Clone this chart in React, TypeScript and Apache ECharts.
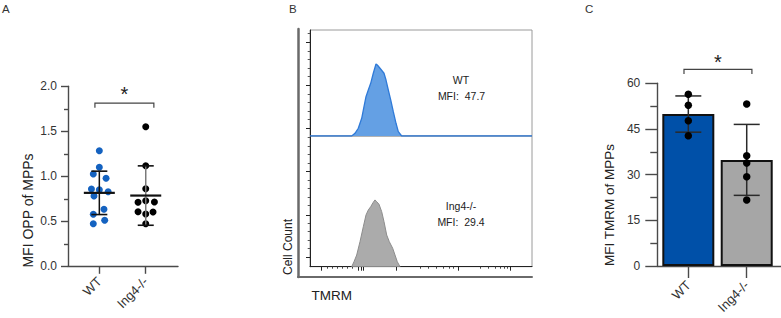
import React, { useEffect, useRef } from "react";
import * as echarts from "echarts";

// ---------- Panel A : MFI OPP of MPPs ----------
const A_GROUPS = ["WT", "Ing4-/-"];
const A_CENTERS = [0.675, 1.675];
const A_WT = [1.284, 1.1, 1.026, 0.978, 0.859, 0.851, 0.829, 0.781, 0.633, 0.578, 0.511, 0.473];
const A_WT_JITTER = [0, 0, -0.13, 0.145, -0.17, 0, 0.19, -0.115, 0.1, -0.13, 0.115, -0.13];
const A_KO = [1.551, 1.118, 0.862, 0.711, 0.729, 0.714, 0.607, 0.603, 0.581, 0.473];
const A_KO_JITTER = [0, 0, 0, -0.166, 0, 0.187, -0.166, 0.157, 0, 0];
const A_MEAN = [0.816, 0.786];
const A_SD = [0.241, 0.33];
const A_BRACKET = [0.58, 1.85, 1.814];

// ---------- Panel B : TMRM histograms ----------
const B_WT_X = [0, 41.7, 45, 48.3, 51.7, 54, 56, 58.3, 60.7, 63.3, 66, 67.3, 70, 74, 76, 78.3, 80.7, 83.3, 86, 88.3, 91.7, 222];
const B_WT_Y = [0, 0, 2.5, 7.3, 16.7, 27.6, 37.1, 43.4, 49.7, 59.2, 67.9, 67.0, 63.9, 59.2, 52.8, 43.4, 34.0, 22.9, 12.0, 4.1, 0, 0];
const B_KO_X = [41.7, 44, 46.7, 50, 53.3, 56, 58.3, 60.7, 63.3, 65, 66.7, 69, 71.7, 74, 76.7, 79.3, 82.7, 85, 87.3, 90];
const B_KO_Y = [0, 4.7, 11.0, 23.6, 37.7, 48.8, 53.5, 56.6, 60.8, 63.0, 61.3, 58.9, 51.9, 42.5, 29.9, 23.6, 17.4, 11.0, 4.7, 0];
const B_X_MAJOR = [11.7, 48, 51, 53, 86, 148, 200];
const B_X_MINOR = [17, 22, 27, 32, 37, 42, 110, 118, 126, 133, 139, 143, 170, 178, 185, 190, 194, 197];
const B_UP_Y_MAJOR = [7.3, 47.8, 88.4];
const B_UP_Y_MINOR = [15.4, 23.5, 31.6, 39.7, 56, 64, 72, 80, 96.5];
const B_LO_Y_MAJOR = [8.9, 48.8, 89.6];
const B_LO_Y_MINOR = [17, 25.1, 33.2, 41.3, 57.5, 65.6, 73.7, 81.8, 97.9, 106, 114.1, 122.2];
const B_LABELS = ["WT", "MFI:  47.7", "Ing4-/-", "MFI:  29.4"];

// ---------- Panel C : MFI TMRM of MPPs ----------
const C_GROUPS = ["WT", "Ing4-/-"];
const C_CENTERS = [0.531, 1.531];
const C_MEAN = [49.9, 34.85];
const C_SD = [5.95, 11.65];
const C_WT = [56.4, 52.8, 47.7, 42.8];
const C_KO = [53.2, 36.2, 33.8, 29.3, 21.7];
const C_BRACKET = [0.457, 1.62, 64.6];

const FONT = "'Liberation Sans', Arial, Helvetica, sans-serif";
const AXIS_COLOR = "#4a4a4a";
const LABEL_COLOR = "#333";

function groupName(groups: string[], centers: number[], v: number) {
  for (let i = 0; i < centers.length; i++) if (Math.abs(centers[i] - v) < 1e-6) return groups[i];
  return "";
}

function errorBarSeries(xi: number, yi: number, centers: number[], means: number[], sds: number[], opts: any) {
  return {
    type: "custom",
    xAxisIndex: xi,
    yAxisIndex: yi,
    z: opts.z,
    data: centers.map((c, i) => [c, means[i], sds[i], i]),
    renderItem: (params: any, api: any) => {
      const x = api.value(0);
      const m = api.value(1);
      const s = api.value(2);
      const idx = api.value(3);
      const c = api.coord([x, m]);
      const t = api.coord([x, m + s]);
      const b = api.coord([x, m - s]);
      const vStroke = opts.vColors[idx];
      const capStroke = opts.capColor;
      const children: any[] = [
        { type: "line", shape: { x1: c[0], y1: t[1], x2: c[0], y2: b[1] }, style: { stroke: vStroke, lineWidth: opts.vWidth } },
        { type: "line", shape: { x1: c[0] - opts.cap, y1: t[1], x2: c[0] + opts.cap, y2: t[1] }, style: { stroke: capStroke, lineWidth: opts.capWidth } },
        { type: "line", shape: { x1: c[0] - opts.cap, y1: b[1], x2: c[0] + opts.cap, y2: b[1] }, style: { stroke: capStroke, lineWidth: opts.capWidth } },
      ];
      if (opts.meanHalf) {
        children.push({ type: "line", shape: { x1: c[0] - opts.meanHalf, y1: c[1], x2: c[0] + opts.meanHalf, y2: c[1] }, style: { stroke: "#111", lineWidth: 2.2 } });
      }
      return { type: "group", children };
    },
  };
}

function bracketSeries(xi: number, yi: number, br: number[], starDy: number, fontSize: number) {
  return {
    type: "custom",
    xAxisIndex: xi,
    yAxisIndex: yi,
    clip: false,
    z: 5,
    data: [br],
    renderItem: (params: any, api: any) => {
      const p1 = api.coord([api.value(0), api.value(2)]);
      const p2 = api.coord([api.value(1), api.value(2)]);
      const drop = 4.7;
      return {
        type: "group",
        children: [
          {
            type: "polyline",
            shape: { points: [[p1[0], p1[1] + drop], [p1[0], p1[1]], [p2[0], p1[1]], [p2[0], p1[1] + drop]] },
            style: { stroke: "#444", lineWidth: 1.2, fill: "none" },
          },
          {
            type: "text",
            x: (p1[0] + p2[0]) / 2,
            y: p1[1] - starDy,
            style: { text: "*", fontSize, fontFamily: FONT, fill: "#222", align: "center", verticalAlign: "top" },
          },
        ],
      };
    },
  };
}

export default function App() {
  const ref = useRef<HTMLDivElement>(null);

  useEffect(() => {
    if (!ref.current) return;
    const chart = echarts.init(ref.current, null, { renderer: "svg" });

    const hidden = { show: false };

    const option: any = {
      animation: false,
      backgroundColor: "#fff",
      grid: [
        { left: 68, top: 86.3, width: 110, height: 180 },
        { left: 310, top: 30, width: 222, height: 106, show: true, borderColor: "#9a9a9a", borderWidth: 1 },
        { left: 310, top: 136, width: 222, height: 130.7, show: true, borderColor: "#9a9a9a", borderWidth: 1 },
        { left: 298, top: 29, width: 234, height: 248 },
        { left: 657.3, top: 83.3, width: 123.7, height: 182.7 },
      ],
      xAxis: [
        {
          gridIndex: 0, type: "value", min: 0, max: 2.37, position: "bottom",
          axisLine: { show: true, lineStyle: { color: AXIS_COLOR, width: 1.4 } },
          axisTick: { show: true, length: 7.5, customValues: A_CENTERS, lineStyle: { color: AXIS_COLOR, width: 1.4 } },
          axisLabel: {
            customValues: A_CENTERS, rotate: 45, margin: 13, fontSize: 13, fontFamily: FONT, color: LABEL_COLOR,
            formatter: (v: number) => groupName(A_GROUPS, A_CENTERS, v),
          },
          splitLine: hidden,
        },
        { gridIndex: 1, type: "value", min: 0, max: 222, show: false },
        {
          gridIndex: 2, type: "value", min: 0, max: 222, position: "bottom",
          axisLine: { show: true, lineStyle: { color: "#222", width: 1 } },
          axisTick: { show: true, length: 4, customValues: B_X_MAJOR, lineStyle: { color: "#222", width: 1 } },
          axisLabel: hidden, splitLine: hidden,
        },
        {
          gridIndex: 2, type: "value", min: 0, max: 222, position: "bottom",
          axisLine: hidden,
          axisTick: { show: true, length: 2, customValues: B_X_MINOR, lineStyle: { color: "#444", width: 1 } },
          axisLabel: hidden, splitLine: hidden,
        },
        {
          gridIndex: 3, type: "value", min: 0, max: 1, position: "bottom",
          axisLine: { show: true, lineStyle: { color: "#6a6a6a", width: 2 } },
          axisTick: hidden, axisLabel: hidden, splitLine: hidden,
        },
        {
          gridIndex: 4, type: "value", min: 0, max: 2.118, position: "bottom",
          axisLine: { show: true, lineStyle: { color: AXIS_COLOR, width: 1.4 } },
          axisTick: { show: true, length: 12, customValues: C_CENTERS, lineStyle: { color: AXIS_COLOR, width: 1.4 } },
          axisLabel: {
            customValues: C_CENTERS, rotate: 45, margin: 17, fontSize: 13, fontFamily: FONT, color: LABEL_COLOR,
            formatter: (v: number) => groupName(C_GROUPS, C_CENTERS, v),
          },
          splitLine: hidden,
        },
      ],
      yAxis: [
        {
          gridIndex: 0, type: "value", min: 0, max: 2, interval: 0.5, position: "left",
          axisLine: { show: true, lineStyle: { color: AXIS_COLOR, width: 1.4 } },
          axisTick: { show: true, length: 7, lineStyle: { color: AXIS_COLOR, width: 1.4 } },
          minorTick: { show: true, splitNumber: 2, length: 4, lineStyle: { color: AXIS_COLOR, width: 1.4 } },
          axisLabel: { margin: 11, fontSize: 12, fontFamily: FONT, color: LABEL_COLOR, formatter: (v: number) => v.toFixed(1) },
          splitLine: hidden, minorSplitLine: hidden,
        },
        {
          gridIndex: 1, type: "value", min: 0, max: 100, position: "left",
          axisLine: { show: true, lineStyle: { color: "#222", width: 1 } },
          axisTick: { show: true, length: 4, customValues: B_UP_Y_MAJOR, lineStyle: { color: "#222" } },
          axisLabel: hidden, splitLine: hidden,
        },
        {
          gridIndex: 1, type: "value", min: 0, max: 100, position: "left",
          axisLine: hidden,
          axisTick: { show: true, length: 2.3, customValues: B_UP_Y_MINOR, lineStyle: { color: "#555" } },
          axisLabel: hidden, splitLine: hidden,
        },
        {
          gridIndex: 2, type: "value", min: 0, max: 123.3, position: "left",
          axisLine: { show: true, lineStyle: { color: "#222", width: 1 } },
          axisTick: { show: true, length: 4, customValues: B_LO_Y_MAJOR, lineStyle: { color: "#222" } },
          axisLabel: hidden, splitLine: hidden,
        },
        {
          gridIndex: 2, type: "value", min: 0, max: 123.3, position: "left",
          axisLine: hidden,
          axisTick: { show: true, length: 2.3, customValues: B_LO_Y_MINOR, lineStyle: { color: "#555" } },
          axisLabel: hidden, splitLine: hidden,
        },
        {
          gridIndex: 3, type: "value", min: 0, max: 1, position: "left",
          axisLine: { show: true, lineStyle: { color: "#6a6a6a", width: 2.5 } },
          axisTick: hidden, axisLabel: hidden, splitLine: hidden,
        },
        {
          gridIndex: 4, type: "value", min: 0, max: 60, interval: 15, position: "left",
          axisLine: { show: true, lineStyle: { color: AXIS_COLOR, width: 1.4 } },
          axisTick: { show: true, length: 12, lineStyle: { color: AXIS_COLOR, width: 1.4 } },
          minorTick: { show: true, splitNumber: 2, length: 7, lineStyle: { color: AXIS_COLOR, width: 1.4 } },
          axisLabel: { margin: 17, fontSize: 12, fontFamily: FONT, color: LABEL_COLOR },
          splitLine: hidden, minorSplitLine: hidden,
        },
      ],
      series: [
        {
          type: "scatter", xAxisIndex: 0, yAxisIndex: 0, symbolSize: 7, z: 3,
          itemStyle: { color: "#1462C0", opacity: 1 },
          data: A_WT.map((v, i) => [A_CENTERS[0] + A_WT_JITTER[i], v]),
        },
        {
          type: "scatter", xAxisIndex: 0, yAxisIndex: 0, symbolSize: 7, z: 3,
          itemStyle: { color: "#000", opacity: 1 },
          data: A_KO.map((v, i) => [A_CENTERS[1] + A_KO_JITTER[i], v]),
        },
        errorBarSeries(0, 0, A_CENTERS, A_MEAN, A_SD, {
          z: 4, vColors: ["#111", "#7a7a7a"], vWidth: 1.5, capColor: "#111", capWidth: 1.6, cap: 8, meanHalf: 15.5,
        }),
        bracketSeries(0, 0, A_BRACKET, 19.5, 20),
        {
          type: "line", xAxisIndex: 1, yAxisIndex: 1, symbol: "none", z: 3,
          lineStyle: { color: "#2f7ad8", width: 1.3 },
          areaStyle: { color: "#64a0e4", opacity: 1 },
          data: B_WT_X.map((x, i) => [x, B_WT_Y[i]]),
        },
        {
          type: "line", xAxisIndex: 2, yAxisIndex: 3, symbol: "none", z: 3,
          lineStyle: { color: "#8c8c8c", width: 1 },
          areaStyle: { color: "#ababab", opacity: 1 },
          data: B_KO_X.map((x, i) => [x, B_KO_Y[i]]),
        },
        {
          type: "bar", xAxisIndex: 5, yAxisIndex: 6, barWidth: 52, z: 2,
          itemStyle: { borderColor: "#111", borderWidth: 2 },
          data: [
            { value: [C_CENTERS[0], C_MEAN[0]], itemStyle: { color: "#0050A8" } },
            { value: [C_CENTERS[1], C_MEAN[1]], itemStyle: { color: "#A6A6A6" } },
          ],
        },
        errorBarSeries(5, 6, C_CENTERS, C_MEAN, C_SD, {
          z: 4, vColors: ["#2a2a2a", "#2a2a2a"], vWidth: 1.5, capColor: "#2a2a2a", capWidth: 1.5, cap: 13,
        }),
        {
          type: "scatter", xAxisIndex: 5, yAxisIndex: 6, symbolSize: 7.5, z: 5,
          itemStyle: { color: "#000", opacity: 1 },
          data: [...C_WT.map((v) => [C_CENTERS[0], v]), ...C_KO.map((v) => [C_CENTERS[1], v])],
        },
        bracketSeries(5, 6, C_BRACKET, 17.5, 20),
      ],
      graphic: [
        { type: "text", left: 2, top: 3, style: { text: "A", fontSize: 11.5, fontFamily: FONT, fill: "#333" } },
        { type: "text", left: 289, top: 3, style: { text: "B", fontSize: 11.5, fontFamily: FONT, fill: "#333" } },
        { type: "text", left: 585, top: 3, style: { text: "C", fontSize: 11.5, fontFamily: FONT, fill: "#333" } },
        {
          type: "text", x: 27.5, y: 210.5, rotation: Math.PI / 2,
          style: { text: "MFI OPP of MPPs", fontSize: 14, fontFamily: FONT, fill: "#222", align: "center", verticalAlign: "middle" },
        },
        {
          type: "text", x: 609, y: 205, rotation: Math.PI / 2,
          style: { text: "MFI TMRM of MPPs", fontSize: 13.5, fontFamily: FONT, fill: "#222", align: "center", verticalAlign: "middle" },
        },
        {
          type: "text", x: 288, y: 247, rotation: Math.PI / 2,
          style: { text: "Cell Count", fontSize: 12, fontFamily: FONT, fill: "#222", align: "center", verticalAlign: "middle" },
        },
        {
          type: "text", x: 311.5, y: 295.5,
          style: { text: "TMRM", fontSize: 13.5, fontFamily: FONT, fill: "#222", align: "left", verticalAlign: "middle" },
        },
        { type: "text", x: 461, y: 80, style: { text: B_LABELS[0], fontSize: 10.5, fontFamily: FONT, fill: "#222", align: "center", verticalAlign: "middle" } },
        { type: "text", x: 461.5, y: 95.5, style: { text: B_LABELS[1], fontSize: 10.5, fontFamily: FONT, fill: "#222", align: "center", verticalAlign: "middle" } },
        { type: "text", x: 461, y: 206, style: { text: B_LABELS[2], fontSize: 10.5, fontFamily: FONT, fill: "#222", align: "center", verticalAlign: "middle" } },
        { type: "text", x: 461, y: 221.7, style: { text: B_LABELS[3], fontSize: 10.5, fontFamily: FONT, fill: "#222", align: "center", verticalAlign: "middle" } },
      ],
    };

    chart.setOption(option);
    return () => chart.dispose();
  }, []);

  return <div ref={ref} style={{ position: "absolute", left: 0, top: 0, width: 781, height: 318 }} />;
}
